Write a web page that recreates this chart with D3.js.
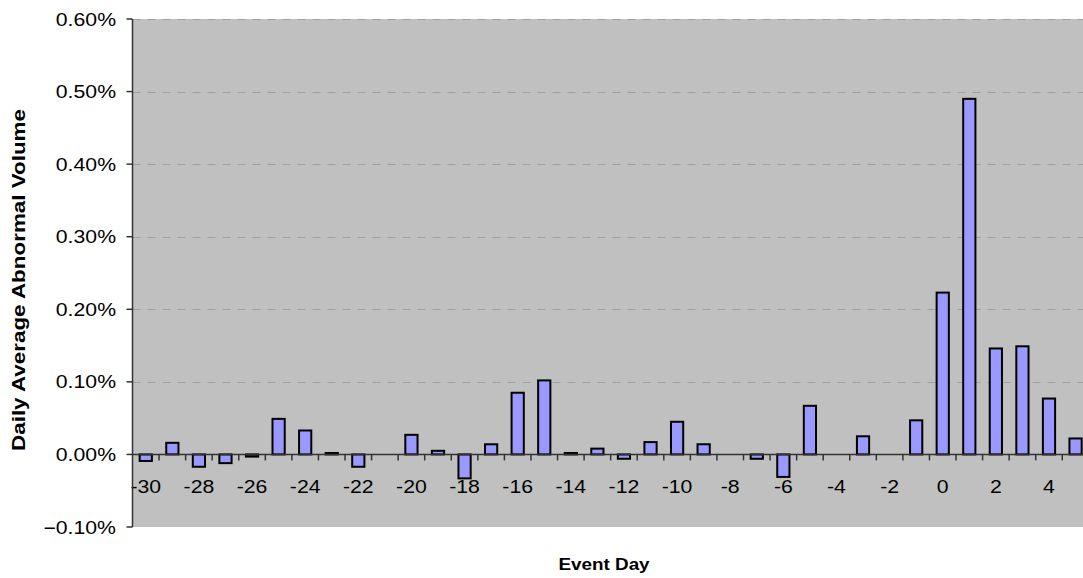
<!DOCTYPE html>
<html>
<head>
<meta charset="utf-8">
<script src="https://cdn.jsdelivr.net/npm/d3@7"></script>
<style>
  html, body { margin: 0; padding: 0; background: #fff; }
  svg { display: block; font-family: "Liberation Sans", Arial, sans-serif; }
</style>
</head>
<body>
<svg id="chart" width="1083" height="578"></svg>
<script>
// Data (values in percent)
const categories = [-30,-29,-28,-27,-26,-25,-24,-23,-22,-21,-20,-19,-18,-17,-16,-15,-14,-13,-12,-11,-10,-9,-8,-7,-6,-5,-4,-3,-2,-1,0,1,2,3,4,5];
const values = [-0.009,0.016,-0.017,-0.012,-0.003,0.049,0.033,0.002,-0.017,null,0.027,0.005,-0.033,0.014,0.085,0.102,0.002,0.008,-0.006,0.017,0.045,0.014,null,-0.006,-0.031,0.067,null,0.025,null,0.047,0.223,0.490,0.146,0.149,0.077,0.022];
const yTicks = [-0.1,0,0.1,0.2,0.3,0.4,0.5,0.6];
const xTickLabels = [-30,-28,-26,-24,-22,-20,-18,-16,-14,-12,-10,-8,-6,-4,-2,0,2,4];
const yTitle = "Daily Average Abnormal Volume";
const xTitle = "Event Day";

(function () {
const svg = d3.select("#chart");
const pLeft = 132.5, pTop = 19, pBottom = 527;
const band = 26.565;
const pRight = pLeft + band * categories.length;
const sx = 1.18; // horizontal stretch of text

const x = d3.scaleBand().domain(categories).range([pLeft, pRight]).paddingInner(0.54).paddingOuter(0.27);
const y = d3.scaleLinear().domain([-0.1, 0.6]).range([pBottom, pTop]);

// plot background
svg.append("rect").attr("x", pLeft).attr("y", pTop).attr("width", pRight - pLeft).attr("height", pBottom - pTop).attr("fill", "#c0c0c0");

// gridlines
svg.append("g").selectAll("line").data(yTicks).join("line")
  .attr("x1", pLeft).attr("x2", pRight)
  .attr("y1", d => Math.round(y(d)) + 0.5).attr("y2", d => Math.round(y(d)) + 0.5)
  .attr("stroke", d => d === -0.1 ? "#ffffff" : "#a0a0a0")
  .attr("stroke-dasharray", "8,7")
  .attr("stroke-width", 1)
  .attr("display", d => d === 0 ? "none" : null);

// bars
const y0 = y(0);
svg.append("g").selectAll("rect").data(categories.map((c, i) => ({c, v: values[i]})).filter(d => d.v !== null)).join("rect")
  .attr("x", d => x(d.c))
  .attr("width", x.bandwidth())
  .attr("y", d => Math.min(y(d.v), y0))
  .attr("height", d => Math.max(Math.abs(y(d.v) - y0), 0.5))
  .attr("fill", "#9999ff")
  .attr("stroke", "#000")
  .attr("stroke-width", 2);

// x axis (at zero)
const xa = svg.append("g");
xa.append("line").attr("x1", pLeft).attr("x2", pRight).attr("y1", y0).attr("y2", y0).attr("stroke", "#333").attr("stroke-width", 1.5);
xa.selectAll("line.tick").data(d3.range(1, categories.length + 1)).join("line").attr("class", "tick")
  .attr("x1", k => pLeft + k * band).attr("x2", k => pLeft + k * band)
  .attr("y1", y0).attr("y2", y0 + 6).attr("stroke", "#333").attr("stroke-width", 1.5);
xa.selectAll("text").data(xTickLabels).join("text")
  .attr("transform", d => `translate(${x(d) + x.bandwidth() / 2},${y0 + 39}) scale(${sx},1)`)
  .attr("text-anchor", "middle")
  .attr("font-size", 18)
  .attr("fill", "#000")
  .text(d => d);

// y axis
const ya = svg.append("g");
ya.append("line").attr("x1", pLeft).attr("x2", pLeft).attr("y1", pTop).attr("y2", pBottom).attr("stroke", "#333").attr("stroke-width", 1.5);
ya.selectAll("line.tick").data(yTicks).join("line").attr("class", "tick")
  .attr("x1", pLeft - 6).attr("x2", pLeft).attr("y1", d => y(d)).attr("y2", d => y(d)).attr("stroke", "#333").attr("stroke-width", 1.5);
ya.selectAll("text").data(yTicks).join("text")
  .attr("transform", d => `translate(116,${y(d) + 6.5}) scale(${sx},1)`)
  .attr("text-anchor", "end")
  .attr("font-size", 18)
  .attr("fill", "#000")
  .text(d => d3.format(".2f")(d) + "%");

// titles
svg.append("text")
  .attr("transform", `translate(25,280) rotate(-90) scale(${sx},1)`)
  .attr("text-anchor", "middle")
  .attr("font-size", 19).attr("font-weight", "bold")
  .text(yTitle);
svg.append("text")
  .attr("transform", `translate(604,570) scale(${sx},1)`)
  .attr("text-anchor", "middle")
  .attr("font-size", 16).attr("font-weight", "bold")
  .text(xTitle);
})();
</script>
</body>
</html>
